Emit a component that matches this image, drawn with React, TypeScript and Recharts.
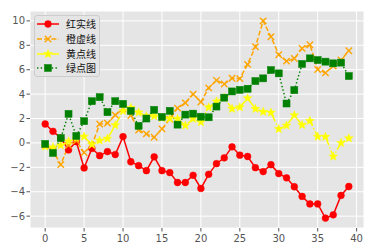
import React from 'react';
import { LineChart, Line, XAxis, YAxis, CartesianGrid, Legend } from 'recharts';

const xValues = [0, 1, 2, 3, 4, 5, 6, 7, 8, 9, 10, 11, 12, 13, 14, 15, 16, 17, 18, 19, 20, 21, 22, 23, 24, 25, 26, 27, 28, 29, 30, 31, 32, 33, 34, 35, 36, 37, 38, 39];
const redValues = [1.55, 0.95, 0.4, -0.57, 0.1, -2.05, -0.45, -1.04, -0.71, -0.95, 0.52, -1.54, -1.86, -2.27, -1.14, -2.27, -2.43, -3.24, -3.24, -2.65, -3.73, -2.57, -1.7, -1.22, -0.32, -1.0, -1.11, -2.03, -2.35, -1.78, -2.51, -2.86, -3.59, -4.38, -5.0, -5.0, -6.16, -5.89, -4.3, -3.57];
const orangeValues = [-0.2, -0.65, -1.78, -0.2, 0.17, -0.79, -0.2, 1.55, 1.62, 2.28, 2.8, 2.25, 1.05, 0.74, 0.46, 1.15, 1.95, 2.85, 3.28, 4.0, 3.35, 4.51, 5.13, 4.83, 5.3, 5.27, 6.44, 7.88, 10.0, 8.7, 7.23, 6.7, 6.92, 7.75, 8.05, 6.02, 5.74, 6.3, 6.8, 7.55];
const yellowValues = [-0.3, -0.36, -0.2, 0.13, 0.4, 0.52, -0.12, 0.2, 0.35, 1.45, 2.62, 2.88, 2.5, 2.2, 2.2, 2.05, 2.0, 1.98, 1.43, 1.98, 1.7, 2.92, 3.4, 3.7, 2.8, 2.92, 3.66, 2.79, 2.55, 2.49, 1.14, 1.43, 2.27, 1.47, 1.81, 0.51, 0.51, -1.11, 0.0, 0.38];
const greenValues = [-0.08, -0.82, 0.4, 2.38, 0.57, 1.78, 3.42, 3.75, 2.52, 3.42, 3.2, 2.63, 1.4, 2.0, 2.71, 2.13, 2.63, 1.5, 2.32, 2.4, 2.15, 2.1, 2.98, 3.71, 4.22, 4.35, 4.44, 5.07, 5.29, 5.97, 5.7, 3.23, 4.33, 6.47, 6.93, 6.79, 6.66, 6.52, 6.58, 5.48];
const seriesNames = ['红实线', '橙虚线', '黄点线', '绿点图'];
const xTicks = [0, 5, 10, 15, 20, 25, 30, 35, 40];
const yTicks = [-6, -4, -2, 0, 2, 4, 6, 8, 10];

const data = xValues.map((x, i) => ({
  x,
  red: redValues[i],
  orange: orangeValues[i],
  yellow: yellowValues[i],
  green: greenValues[i],
}));

const RED = '#FF0000';
const ORANGE = '#FFA500';
const YELLOW = '#FFFF00';
const GREEN = '#008000';

const DASHED = '5 2.2';
const DASHDOT = '8.5 2.2 1.4 2.2';
const DOTTED = '1.4 2.3';

function starPath(cx: number, cy: number, R: number, r: number) {
  let d = '';
  for (let k = 0; k < 10; k++) {
    const ang = -Math.PI / 2 + (k * Math.PI) / 5;
    const rad = k % 2 === 0 ? R : r;
    d += (k === 0 ? 'M' : 'L') + (cx + rad * Math.cos(ang)).toFixed(2) + ',' + (cy + rad * Math.sin(ang)).toFixed(2);
  }
  return d + 'Z';
}

const CircleMark = ({ cx, cy }: { cx: number; cy: number }) => (
  <circle cx={cx} cy={cy} r={3.4} fill={RED} stroke={RED} strokeWidth={0.5} />
);
const XMark = ({ cx, cy }: { cx: number; cy: number }) => (
  <g stroke={ORANGE} strokeWidth={1.4}>
    <line x1={cx - 3.2} y1={cy - 3.2} x2={cx + 3.2} y2={cy + 3.2} />
    <line x1={cx - 3.2} y1={cy + 3.2} x2={cx + 3.2} y2={cy - 3.2} />
  </g>
);
const StarMark = ({ cx, cy }: { cx: number; cy: number }) => (
  <path d={starPath(cx, cy, 4.6, 1.9)} fill={YELLOW} stroke={YELLOW} strokeWidth={0.5} />
);
const SquareMark = ({ cx, cy }: { cx: number; cy: number }) => (
  <rect x={cx - 3.5} y={cy - 3.5} width={7} height={7} fill={GREEN} stroke={GREEN} strokeWidth={0.5} />
);

const makeDot = (Mark: any, prefix: string) => (props: any) => {
  if (props.cx == null || props.cy == null) return <g key={`${prefix}${props.index}`} />;
  return (
    <g key={`${prefix}${props.index}`}>
      <Mark cx={props.cx} cy={props.cy} />
    </g>
  );
};

const legendRows = [
  { name: seriesNames[0], color: RED, dash: undefined as string | undefined, Mark: CircleMark },
  { name: seriesNames[1], color: ORANGE, dash: DASHED, Mark: XMark },
  { name: seriesNames[2], color: YELLOW, dash: DASHDOT, Mark: StarMark },
  { name: seriesNames[3], color: GREEN, dash: DOTTED, Mark: SquareMark },
];

const LegendBox = () => (
  <div
    style={{
      background: 'rgba(229,229,229,0.8)',
      border: '1px solid #CCCCCC',
      borderRadius: 3,
      width: 66,
      height: 62,
      boxSizing: 'border-box',
      paddingTop: 1,
      fontFamily: '"Noto Sans CJK SC", sans-serif',
      fontSize: 10,
      color: '#111',
    }}
  >
    {legendRows.map((row) => (
      <div key={row.name} style={{ display: 'flex', alignItems: 'center', height: 14.7 }}>
        <svg width={24} height={14} style={{ display: 'block', marginLeft: 1 }}>
          <line x1={1} y1={7} x2={23} y2={7} stroke={row.color} strokeWidth={1.5} strokeDasharray={row.dash} />
          <row.Mark cx={12} cy={7} />
        </svg>
        <span style={{ marginLeft: 6, lineHeight: '14px', whiteSpace: 'nowrap' }}>{row.name}</span>
      </div>
    ))}
  </div>
);

const fmt = (v: number) => (v < 0 ? '\u2212' + Math.abs(v) : String(v));
const tickStyle = { fill: '#555555', fontSize: 10, fontFamily: '"DejaVu Sans", sans-serif' };

export default function App() {
  return (
    <div style={{ position: 'absolute', left: 0, top: 0, width: 374, height: 252, background: '#fff' }}>
      <LineChart width={374} height={252} data={data} margin={{ top: 11, right: 10, bottom: 0, left: 0 }}>
        <CartesianGrid fill="#E5E5E5" fillOpacity={1} stroke="#FFFFFF" strokeWidth={1} />
        <XAxis
          type="number"
          dataKey="x"
          domain={[-1.95, 40.95]}
          ticks={xTicks}
          allowDataOverflow
          axisLine={false}
          tickLine={{ stroke: '#555555' }}
          tickSize={3.5}
          tickMargin={3}
          height={24}
          tick={tickStyle}
          tickFormatter={fmt}
          interval={0}
        />
        <YAxis
          type="number"
          domain={[-6.97, 10.81]}
          ticks={yTicks}
          allowDataOverflow
          axisLine={false}
          tickLine={{ stroke: '#555555' }}
          tickSize={3.5}
          tickMargin={1.5}
          width={30}
          tick={tickStyle}
          tickFormatter={fmt}
          interval={0}
        />
        <Line dataKey="red" name={seriesNames[0]} stroke={RED} strokeWidth={1.5} dot={makeDot(CircleMark, 'r')} activeDot={false} isAnimationActive={false} />
        <Line dataKey="orange" name={seriesNames[1]} stroke={ORANGE} strokeWidth={1.5} strokeDasharray={DASHED} dot={makeDot(XMark, 'o')} activeDot={false} isAnimationActive={false} />
        <Line dataKey="yellow" name={seriesNames[2]} stroke={YELLOW} strokeWidth={1.5} strokeDasharray={DASHDOT} dot={makeDot(StarMark, 'y')} activeDot={false} isAnimationActive={false} />
        <Line dataKey="green" name={seriesNames[3]} stroke={GREEN} strokeWidth={1.5} strokeDasharray={DOTTED} dot={makeDot(SquareMark, 'g')} activeDot={false} isAnimationActive={false} />
        <Legend
          layout="vertical"
          align="center"
          verticalAlign="middle"
          content={() => <LegendBox />}
          wrapperStyle={{ left: 34, top: 15, width: 66, height: 62 }}
        />
      </LineChart>
    </div>
  );
}
